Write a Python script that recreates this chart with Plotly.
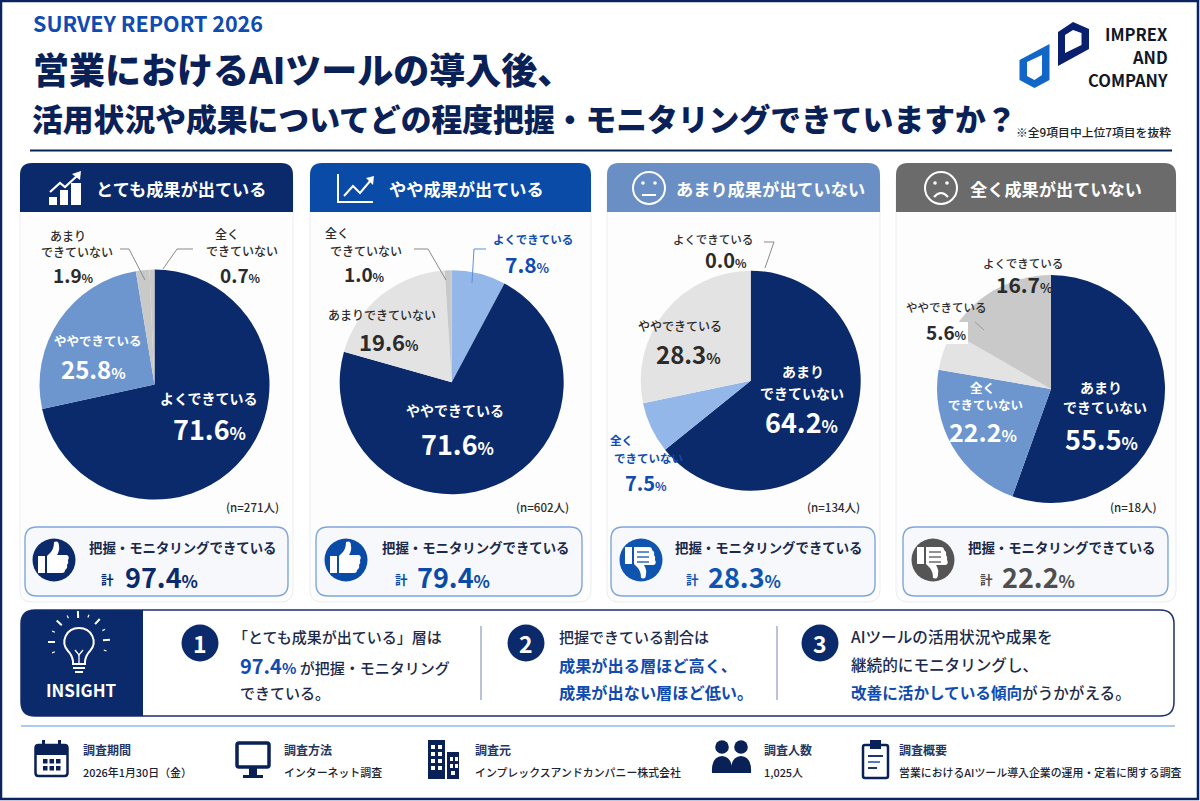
import math
import re
import plotly.graph_objects as go

W = 1200
H = 801
JP = "Noto Sans CJK JP"

NAVY = "#0a2a6b"
DEEP = "#0a2158"
BLUE = "#0f4bb0"
MID = "#6d96cf"
SKY = "#93b7e9"
GREY = "#c9c9c9"
PALE = "#e3e3e3"
INK = "#2b2b2b"

# pie data, clockwise from 12 o'clock
cats_1 = ["よくできている", "ややできている", "あまりできていない", "全くできていない"]
vals_1 = [71.6, 25.8, 1.9, 0.7]
cats_2 = ["よくできている", "ややできている", "あまりできていない", "全くできていない"]
vals_2 = [7.8, 71.6, 19.6, 1.0]
cats_3 = ["よくできている", "あまりできていない", "全くできていない", "ややできている"]
vals_3 = [0.0, 64.2, 7.5, 28.3]
cats_4 = ["あまりできていない", "全くできていない", "ややできている", "よくできている"]
vals_4 = [55.5, 22.2, 5.6, 16.7]

group_titles = ["とても成果が出ている", "やや成果が出ている", "あまり成果が出ていない", "全く成果が出ていない"]
group_n = [271, 602, 134, 18]
group_total = [97.4, 79.4, 28.3, 22.2]


def fx(x):
    return x / W


def fy(y):
    return 1 - y / H


def pth(d, ox=0, oy=0, sy=1):
    # px path -> paper path
    out = []
    is_x = True
    for tok in re.findall(r"[MLQCZ]|-?\d+\.?\d*", d):
        if tok in "MLQCZ":
            out.append(tok)
            is_x = True
        elif is_x:
            out.append(f"{fx(float(tok) + ox):.5f}")
            is_x = False
        else:
            out.append(f"{fy(float(tok) * sy + oy):.5f}")
            is_x = True
    return " ".join(out)


def rr(x0, y0, x1, y1, r, tl=True, tr=True, br=True, bl=True):
    d = f"M {x0 + (r if tl else 0)} {y0} L {x1 - (r if tr else 0)} {y0} "
    d += f"Q {x1} {y0} {x1} {y0 + r} " if tr else ""
    d += f"L {x1} {y1 - (r if br else 0)} "
    d += f"Q {x1} {y1} {x1 - r} {y1} " if br else ""
    d += f"L {x0 + (r if bl else 0)} {y1} "
    d += f"Q {x0} {y1} {x0} {y1 - r} " if bl else ""
    d += f"L {x0} {y0 + (r if tl else 0)} "
    d += f"Q {x0} {y0} {x0 + r} {y0} " if tl else ""
    return d + "Z"


shapes = []
annos = []


def shape_path(d, fill=None, line=None, lw=0, layer="above", ox=0, oy=0, sy=1):
    shapes.append(dict(type="path", path=pth(d, ox, oy, sy), xref="paper", yref="paper", layer=layer,
                       fillcolor=fill or "rgba(0,0,0,0)",
                       line=dict(color=line or "rgba(0,0,0,0)", width=lw)))


def circle(cx, cy, r, fill=None, line=None, lw=0, layer="above"):
    shapes.append(dict(type="circle", xref="paper", yref="paper", layer=layer,
                       x0=fx(cx - r), x1=fx(cx + r), y0=fy(cy + r), y1=fy(cy - r),
                       fillcolor=fill or "rgba(0,0,0,0)",
                       line=dict(color=line or "rgba(0,0,0,0)", width=lw)))


def rect(x0, y0, x1, y1, fill, layer="above"):
    shape_path(f"M {x0} {y0} L {x1} {y0} L {x1} {y1} L {x0} {y1} Z", fill=fill, layer=layer)


def seg(points, color, lw=1.0, layer="above"):
    d = "M " + " L ".join(f"{x} {y}" for x, y in points)
    shape_path(d, line=color, lw=lw, layer=layer)


def txt(x, y, s, size=12, color=INK, bold=False, anchor="center", weight=None):
    font = dict(family=JP, size=size, color=color)
    if weight:
        font["weight"] = weight
    annos.append(dict(x=fx(x), y=fy(y), xref="paper", yref="paper", text=f"<b>{s}</b>" if bold else s,
                      showarrow=False, xanchor=anchor, yanchor="middle", align=anchor,
                      font=font, borderpad=0))


def pct(x, y, val, size, color, anchor="center"):
    small = round(size * 0.62)
    txt(x, y, f'<b>{val:.1f}</b><span style="font-size:{small}px"><b>%</b></span>', size, color, anchor=anchor)


# page
shape_path(rr(1, 1, 1198, 799, 0), line="#0a2362", lw=2.5, layer="above")

# header
txt(32, 23, "SURVEY REPORT 2026", 21.5, BLUE, True, "left")
txt(32, 68, "営業におけるAIツールの導入後、", 36, DEEP, False, "left", weight=900)
txt(31, 117, "活用状況や成果についてどの程度把握・モニタリングできていますか？", 30.8, DEEP, False, "left", weight=900)
txt(1172, 132, "※全9項目中上位7項目を抜粋", 11.8, "#222222", False, "right", weight=500)
seg([(30, 150.5), (1172, 150.5)], DEEP, 2)

# logo
shape_path("M 1058 32 L 1073 22 L 1089 29 L 1089 49 L 1058 66 Z M 1065 35 L 1065 53 L 1081.5 45 L 1081.5 33 L 1073 30 Z",
           fill="#0a1f6e")
shape_path("M 1019.5 60 L 1049.5 44 L 1049.5 80 L 1034.5 88 L 1019.5 80 Z M 1027 62 L 1027 76 L 1034.5 80 L 1042 75 L 1042 55 Z",
           fill="#1166c8")
txt(1169, 34, "IMPREX", 16.5, "#111827", True, "right")
txt(1169, 57, "AND", 16.5, "#111827", True, "right")
txt(1169, 80, "COMPANY", 16.5, "#111827", True, "right")

# cards
card_x = [(20, 293), (310, 591), (607, 880), (896, 1176)]
head_col = [NAVY, "#0b4ba8", "#6a8fc4", "#6b6b6b"]
head_tx = [95, 388, 675, 969]
n_right = [280, 570, 861, 1158]
box_x = [(25, 288), (316, 582), (611, 875), (903, 1168)]
icon_c = [54, 346, 641, 933]
icon_col = [NAVY, "#0b4ba8", "#0f55b0", "#555555"]
num_col = [NAVY, "#0b4ba8", "#0f55b0", "#4f4f4f"]
label_x = [88, 381, 674, 967]
kei_x = [100, 394, 685, 979]
total_x = [124, 416, 707, 1001]

THUMB = ("M -16 -4 L -9 -4 L -9 13 L -16 13 Z "
         "M -7 -4 L -3 -8 Q 0 -12 0 -18 Q 5 -20 5 -14 Q 6 -10 3 -5 L 13 -5 Q 16 -3 14 0 "
         "Q 15 3 13 5 Q 14 8 11 10 Q 11 13 8 13 L -7 13 Z")

for i in range(4):
    x0, x1 = card_x[i]
    shape_path(rr(x0, 170, x1, 602, 12), fill="#fdfdfe", line="#e9edf3", lw=1, layer="below")
    shape_path(rr(x0, 163, x1, 212, 12, br=False, bl=False), fill=head_col[i], layer="below")
    txt(head_tx[i], 188, group_titles[i], 17.2, "white", True, "left")
    txt(n_right[i], 507, f"(n={group_n[i]}人)", 11.5, INK, False, "right", weight=500)
    bx0, bx1 = box_x[i]
    shape_path(rr(bx0, 527, bx1, 596, 12), fill="#f6f8fc", line="#7fa6dc", lw=1.4, layer="below")
    circle(icon_c[i], 560, 21.5, fill=icon_col[i])
    if i < 2:
        shape_path(THUMB, fill="white", ox=icon_c[i], oy=560)
    else:
        shape_path(THUMB, fill="white", ox=icon_c[i], oy=560, sy=-1)
        for dy in (-8, -3, 2):
            seg([(icon_c[i] - 4, 560 + dy), (icon_c[i] + 8, 560 + dy)], icon_col[i], 1.3)
    txt(label_x[i], 547, "把握・モニタリングできている", 13.4, "#1b2a4a", True, "left")
    txt(kei_x[i], 579, "計", 12.5, num_col[i], True, "left")
    pct(total_x[i], 576, group_total[i], 27, num_col[i], "left")

# header icons
for bar in [(49, 197, 57, 205), (60, 190, 68, 205), (71, 183, 81, 205)]:
    rect(*bar, fill="white")
seg([(50, 192), (60, 183), (65, 187), (78, 175)], "white", 2.2)
shape_path("M 72 174 L 81 171 L 80 180 Z", fill="white")

seg([(338, 174), (338, 202), (373, 202)], "white", 2)
seg([(344, 196), (353, 186), (360, 193), (371, 180)], "white", 2)
shape_path("M 366 178 L 374 176 L 373 185 Z", fill="white")

circle(649, 188, 16, line="white", lw=2)
circle(643, 183, 1.8, fill="white")
circle(655, 183, 1.8, fill="white")
seg([(642, 195), (656, 195)], "white", 2)

circle(941, 188, 16, line="white", lw=2)
circle(935, 183, 1.8, fill="white")
circle(947, 183, 1.8, fill="white")
shape_path("M 934 197 Q 941 189 948 197", line="white", lw=2)

# pies
pie_sets = [
    (cats_1, vals_1, [NAVY, MID, GREY, GREY], 154.5, 384.6, 115),
    (cats_2, vals_2, [SKY, NAVY, PALE, GREY], 451.7, 382.3, 112),
    (cats_3, vals_3, [SKY, NAVY, SKY, PALE], 750.7, 380.7, 110),
    (cats_4, vals_4, [NAVY, MID, PALE, GREY], 1051, 389, 114),
]

fig = go.Figure()
for cats, vals, cols, cx, cy, r in pie_sets:
    fig.add_trace(go.Pie(
        labels=cats, values=vals, sort=False, direction="clockwise", rotation=0,
        marker=dict(colors=cols, line=dict(width=0)),
        textinfo="none", showlegend=False, hole=0,
        domain=dict(x=[fx(cx - r), fx(cx + r)], y=[fy(cy + r), fy(cy - r)]),
    ))

# pie 1 labels
txt(68, 235, "あまり", 12, INK, weight=500)
txt(77, 251, "できていない", 12, INK, weight=500)
pct(73, 275, vals_1[2], 19, INK)
txt(227, 233, "全く", 12, INK, weight=500)
txt(242, 250, "できていない", 12, INK, weight=500)
pct(240, 275, vals_1[3], 19, INK)
seg([(120, 249), (129, 249), (145, 280)], "#8a8a8a", 1)
seg([(193, 249), (177, 249), (163, 269)], "#8a8a8a", 1)
txt(98, 341, "ややできている", 12.5, "white", True)
pct(93, 368, vals_1[1], 24, "white")
txt(209, 398, "よくできている", 14, "white", True)
pct(209, 428, vals_1[0], 27, "white")

# pie 2 labels
txt(337, 232, "全く", 12, INK, weight=500)
txt(366, 250, "できていない", 12, INK, weight=500)
pct(364, 274, vals_2[3], 19, INK)
seg([(414, 249), (428, 249), (446, 280)], "#8a8a8a", 1)
txt(533, 239, "よくできている", 11.5, BLUE, True)
pct(527, 264, vals_2[0], 21, BLUE)
seg([(486, 249), (474, 249), (472, 283)], "#5f8fd6", 1)
txt(382, 314, "あまりできていない", 12, INK, weight=500)
pct(389, 341, vals_2[2], 22, INK)
txt(455, 410, "ややできている", 14, "white", True)
pct(457, 443, vals_2[1], 27, "white")

# pie 3 labels
txt(713, 239, "よくできている", 11.5, INK, weight=500)
pct(726, 259, vals_3[0], 20, INK)
seg([(764, 242), (774, 242), (765, 268)], "#8a8a8a", 1)
txt(680, 325, "ややできている", 12, INK, weight=500)
pct(688, 353, vals_3[3], 24, INK)
txt(803, 371, "あまり", 14, "white", True)
txt(802, 393, "できていない", 14, "white", True)
pct(801, 422, vals_3[1], 27, "white")
txt(621, 440, "全く", 11.5, BLUE, True)
txt(648, 458, "できていない", 11.5, BLUE, True)
pct(646, 482, vals_3[2], 20, BLUE)

# pie 4 labels
rect(925, 322, 968, 344, "white")
seg([(975, 322), (984, 330)], "#9a9a9a", 1)
txt(1023, 263, "よくできている", 11.5, INK, weight=500)
pct(1024, 284, vals_4[3], 21, INK)
txt(946, 307, "ややできている", 11.5, INK, weight=500)
pct(946, 331, vals_4[2], 19, INK)
txt(1101, 387, "あまり", 14, "white", True)
txt(1105, 407, "できていない", 14, "white", True)
pct(1101, 438, vals_4[0], 27, "white")
txt(982, 387, "全く", 12.5, "white", True)
txt(985, 404, "できていない", 12.5, "white", True)
pct(983, 431, vals_4[1], 25, "white")

# insight band
shape_path(rr(21, 610, 1174, 716, 14), fill="white", line="#1d2f6f", lw=1.5, layer="below")
shape_path(rr(21, 610, 143, 716, 14, tr=False, br=False), fill=NAVY, layer="below")
txt(81, 689, "INSIGHT", 17, "white", True)

shape_path("M 73 664 L 85 664 L 85 661 Q 86 655 90 651 C 98 642 92 628 79 628 "
           "C 66 628 60 642 68 651 Q 72 655 73 661 Z", line="white", lw=2)
seg([(73, 668), (85, 668)], "white", 2)
seg([(75, 672), (83, 672)], "white", 2)
seg([(75, 650), (79, 655), (83, 650)], "white", 1.3)
seg([(79, 655), (79, 664)], "white", 1.3)
for deg in range(-112, 113, 22):
    a = math.radians(deg)
    long_ray = (round(deg / 22) % 2) == 0
    r0, r1 = (24, 31) if long_ray else (26, 29)
    seg([(79 + r0 * math.sin(a), 642 - r0 * math.cos(a)), (79 + r1 * math.sin(a), 642 - r1 * math.cos(a))],
        "white", 2 if long_ray else 1.2)

for cx, num in [(200, "1"), (526, "2"), (820, "3")]:
    circle(cx, 643, 18.5, fill=NAVY)
    txt(cx, 643, num, 23, "white", True)
for dx in (481, 777):
    seg([(dx, 626), (dx, 700)], "#8a9cc0", 1.2)

BODY = "#1b2a4a"
txt(232, 636, "「とても成果が出ている」層は", 15, BODY, False, "left", weight=500)
txt(239, 665, f'<b><span style="color:{BLUE};font-size:20px">97.4</span>'
              f'<span style="color:{BLUE};font-size:15px">%</span></b> が把握・モニタリング', 15, BODY, False, "left", weight=500)
txt(239, 692, "できている。", 15, BODY, False, "left", weight=500)
txt(558, 636, "把握できている割合は", 15, BODY, False, "left", weight=500)
txt(558, 665, "成果が出る層ほど高く、", 16.2, BLUE, True, "left")
txt(558, 692, "成果が出ない層ほど低い。", 16.2, BLUE, True, "left")
txt(850, 636, "AIツールの活用状況や成果を", 15.6, BODY, False, "left", weight=500)
txt(850, 664, "継続的にモニタリングし、", 15.6, BODY, False, "left", weight=500)
txt(850, 692, f'<b><span style="color:{BLUE}">改善に活かしている傾向</span></b>がうかがえる。', 15.6, BODY, False, "left", weight=500)

# footer
seg([(21, 726), (1175, 726)], "#8fb8e8", 1.5)

foot = [
    (82, "調査期間", "2026年1月30日（金）"),
    (283, "調査方法", "インターネット調査"),
    (474, "調査元", "インプレックスアンドカンパニー株式会社"),
    (763, "調査人数", "1,025人"),
    (898, "調査概要", "営業におけるAIツール導入企業の運用・定着に関する調査"),
]
for x, head, body in foot:
    txt(x, 749, head, 12, "#24365f", True, "left")
    txt(x, 772, body, 10.9, "#1b2333", False, "left", weight=500)

# calendar
shape_path(rr(35.5, 745, 67.5, 776, 3), line=DEEP, lw=2.5)
rect(35.5, 745, 67.5, 755, DEEP)
rect(42, 740, 45, 748, DEEP)
rect(58, 740, 61, 748, DEEP)
for row_y in (759, 766):
    for col_x in (43, 49.5, 56):
        rect(col_x, row_y, col_x + 4.5, row_y + 4.5, DEEP)

# monitor
shape_path(rr(237, 743, 269, 767, 2), line=DEEP, lw=3.5)
rect(249, 768, 257, 775, DEEP)
rect(243, 775, 263, 778, DEEP)

# building
rect(428, 740, 445, 779, DEEP)
rect(447, 752, 459, 779, DEEP)
for wy in (745, 752, 759, 766):
    for wx in (431, 438):
        rect(wx, wy, wx + 4, wy + 4, "white")
for wy in (757, 764):
    for wx in (450, 455):
        rect(wx, wy, wx + 3, wy + 4, "white")
rect(451, 771, 455, 775, "white")

# people
for px in (722, 741):
    circle(px, 747, 6.8, fill=DEEP)
    shape_path(f"M {px - 10} 773 Q {px - 11} 757 {px} 756 Q {px + 11} 757 {px + 10} 773 Z", fill=DEEP)

# clipboard
shape_path(rr(863, 745, 888, 778, 2), line=DEEP, lw=2.5)
rect(870, 740, 881, 749, DEEP)
seg([(868, 756), (883, 756)], DEEP, 1.8)
seg([(868, 762), (880, 762)], "#3a6fc0", 1.8)
seg([(868, 768), (877, 768)], DEEP, 1.8)

fig.update_layout(
    width=W,
    height=H,
    margin=dict(l=0, r=0, t=0, b=0),
    paper_bgcolor="white",
    shapes=shapes,
    annotations=annos,
    font=dict(family=JP),
)
fig.write_html("out.html", config={"displayModeBar": False},
               post_script="document.body.style.margin='0';document.body.style.overflow='hidden';")
